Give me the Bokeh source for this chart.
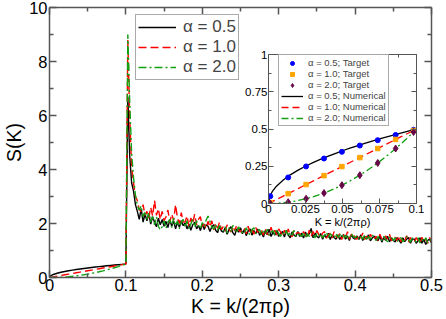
from bokeh.plotting import figure
from bokeh.models import Legend, LegendItem, LinearAxis, FixedTicker, Range1d
from bokeh.embed import file_html
from bokeh.resources import INLINE

# ---------------- data ----------------
series_labels = ["α = 0.5", "α = 1.0", "α = 2.0"]

# smooth part below K = 0.1
K_low = [0, 0.001, 0.0025, 0.005, 0.01, 0.015, 0.02, 0.025, 0.03, 0.035, 0.04, 0.045,
         0.05, 0.055, 0.06, 0.065, 0.07, 0.075, 0.08, 0.085, 0.09, 0.095, 0.1]
S05_low = [0, 0.05, 0.079, 0.112, 0.158, 0.194, 0.224, 0.25, 0.274, 0.296, 0.316, 0.335,
           0.354, 0.371, 0.387, 0.403, 0.418, 0.433, 0.447, 0.461, 0.474, 0.487, 0.5]
S10_low = [0, 0.005, 0.0125, 0.025, 0.05, 0.075, 0.1, 0.125, 0.15, 0.175, 0.2, 0.225,
           0.25, 0.275, 0.3, 0.325, 0.35, 0.375, 0.4, 0.425, 0.45, 0.475, 0.5]
S20_low = [0, 0.00005, 0.0003, 0.00125, 0.005, 0.011, 0.02, 0.031, 0.045, 0.061, 0.08, 0.101,
           0.125, 0.151, 0.18, 0.211, 0.245, 0.281, 0.32, 0.361, 0.405, 0.451, 0.5]

# noisy part above K = 0.1 (K = 0.1025 ... 0.5, step 0.0025)
S05_high = [
    6.7, 4.5, 3.5, 3.2, 2.7, 2.45, 2.15, 2.55, 2.05, 2.35,
    2.1, 2.38, 1.98, 2.25, 2.05, 1.88, 2.2, 1.95, 2.15, 1.9,
    2.08, 1.85, 2.15, 1.9, 2.1, 1.8, 2.05, 1.86, 2.1, 1.92,
    2.02, 1.8, 1.98, 1.75, 1.95, 2.05, 1.8, 1.93, 1.74, 1.98,
    1.78, 1.95, 1.9, 1.7, 1.88, 1.95, 1.75, 1.66, 1.9, 1.72,
    1.68, 1.84, 1.6, 1.78, 1.88, 1.66, 1.56, 1.8, 1.68, 1.84,
    1.62, 1.78, 1.55, 1.72, 1.8, 1.57, 1.74, 1.62, 1.8, 1.56,
    1.68, 1.5, 1.74, 1.58, 1.79, 1.52, 1.68, 1.57, 1.75, 1.52,
    1.63, 1.7, 1.5, 1.74, 1.58, 1.47, 1.69, 1.57, 1.52, 1.7,
    1.52, 1.64, 1.46, 1.68, 1.53, 1.62, 1.82, 1.47, 1.64, 1.52,
    1.47, 1.63, 1.42, 1.58, 1.47, 1.64, 1.41, 1.58, 1.48, 1.42,
    1.58, 1.41, 1.53, 1.58, 1.42, 1.54, 1.37, 1.58, 1.47, 1.42,
    1.53, 1.41, 1.58, 1.37, 1.52, 1.42, 1.58, 1.36, 1.46, 1.53,
    1.43, 1.36, 1.53, 1.31, 1.48, 1.38, 1.53, 1.32, 1.47, 1.37,
    1.32, 1.48, 1.38, 1.27, 1.47, 1.33, 1.42, 1.48, 1.27, 1.42,
    1.42, 1.27, 1.36, 1.47, 1.27, 1.41, 1.22, 1.37, 1.42, 1.28]
S10_high = [
    8.8, 5.9, 4.1, 3.5, 3.0, 2.85, 2.5, 2.45, 2.7, 2.3,
    2.45, 2.2, 2.6, 2.28, 2.85, 2.3, 2.55, 2.15, 2.45, 2.1,
    2.25, 2.5, 2.05, 2.35, 2.12, 2.7, 2.2, 2.0, 2.4, 2.05,
    2.05, 2.28, 1.9, 2.2, 2.0, 2.35, 1.95, 2.15, 2.25, 1.9,
    1.98, 1.82, 2.08, 1.87, 2.1, 1.76, 2.0, 1.82, 2.05, 1.77,
    1.88, 1.72, 1.95, 1.78, 1.68, 1.9, 1.72, 1.95, 1.77, 1.68,
    1.8, 1.84, 1.62, 1.9, 1.68, 1.8, 1.6, 1.85, 1.67, 1.8,
    1.74, 1.57, 1.8, 1.62, 1.57, 1.86, 1.62, 1.75, 1.57, 1.8,
    1.68, 1.52, 1.75, 1.57, 1.8, 1.57, 1.51, 1.75, 1.62, 1.66,
    1.63, 1.5, 1.7, 1.56, 1.47, 1.75, 1.52, 1.7, 1.56, 1.74,
    1.58, 1.46, 1.65, 1.7, 1.46, 1.58, 1.64, 1.46, 1.7, 1.52,
    1.47, 1.64, 1.41, 1.58, 1.46, 1.7, 1.42, 1.58, 1.65, 1.46,
    1.42, 1.58, 1.46, 1.65, 1.41, 1.53, 1.36, 1.6, 1.47, 1.42,
    1.53, 1.37, 1.6, 1.42, 1.36, 1.54, 1.42, 1.6, 1.36, 1.48,
    1.48, 1.36, 1.55, 1.32, 1.48, 1.37, 1.55, 1.31, 1.48, 1.37,
    1.32, 1.48, 1.37, 1.27, 1.49, 1.32, 1.43, 1.27, 1.48, 1.33]
S20_high = [
    9.0, 6.5, 4.6, 3.7, 3.05, 2.65, 2.5, 2.65, 2.25, 2.45,
    2.15, 2.4, 2.05, 2.3, 1.95, 2.25, 1.9, 1.76, 1.88, 2.1,
    1.82, 2.05, 2.15, 1.85, 2.2, 1.92, 2.1, 1.8, 2.05, 2.15,
    1.86, 2.1, 1.8, 1.98, 2.15, 1.86, 2.1, 1.92, 1.8, 2.04,
    1.88, 2.12, 2.28, 2.08, 1.86, 1.8, 1.98, 1.75, 1.92, 1.8,
    1.72, 1.88, 1.66, 1.84, 1.7, 1.93, 1.76, 1.66, 1.88, 1.72,
    1.66, 1.62, 1.84, 1.68, 1.56, 1.78, 1.84, 1.62, 1.72, 1.78,
    1.57, 1.74, 1.62, 1.79, 1.56, 1.67, 1.74, 1.57, 1.78, 1.62,
    1.52, 1.68, 1.57, 1.74, 1.52, 1.68, 1.57, 1.74, 1.52, 1.62,
    1.58, 1.52, 1.68, 1.47, 1.62, 1.52, 1.68, 1.58, 1.47, 1.63,
    1.52, 1.63, 1.47, 1.56, 1.68, 1.47, 1.62, 1.53, 1.46, 1.63,
    1.48, 1.57, 1.63, 1.42, 1.57, 1.48, 1.42, 1.63, 1.52, 1.47,
    1.57, 1.42, 1.52, 1.42, 1.58, 1.37, 1.52, 1.42, 1.58, 1.48,
    1.37, 1.52, 1.43, 1.37, 1.53, 1.42, 1.32, 1.47, 1.53, 1.37,
    1.47, 1.32, 1.42, 1.48, 1.32, 1.41, 1.52, 1.38, 1.32, 1.47,
    1.38, 1.32, 1.47, 1.28, 1.42, 1.33, 1.47, 1.28, 1.36, 1.42]
K_high = [round(0.1 + 0.0025 * (i + 1), 4) for i in range(len(S05_high))]

# inset: target points
K_target = [0.0012, 0.0133, 0.0254, 0.0375, 0.0496, 0.0617, 0.0738, 0.0859, 0.098]
T05 = [0.049, 0.175, 0.249, 0.302, 0.347, 0.389, 0.425, 0.46, 0.495]
T10 = [0.006, 0.066, 0.127, 0.187, 0.248, 0.308, 0.369, 0.43, 0.49]
T20 = [0.0002, 0.009, 0.032, 0.07, 0.123, 0.19, 0.272, 0.369, 0.48]
inset_labels = ["α = 0.5; Target", "α = 1.0; Target", "α = 2.0; Target",
                "α = 0.5; Numerical", "α = 1.0; Numerical", "α = 2.0; Numerical"]

# ticks
main_xticks = [0, 0.1, 0.2, 0.3, 0.4, 0.5]
main_xtick_labels = ["0", "0.1", "0.2", "0.3", "0.4", "0.5"]
main_xminor = [0.05, 0.15, 0.25, 0.35, 0.45]
main_yticks = [0, 2, 4, 6, 8, 10]
main_ytick_labels = ["0", "2", "4", "6", "8", "10"]
main_yminor = [1, 3, 5, 7, 9]
inset_xticks = [0, 0.025, 0.05, 0.075, 0.1]
inset_xtick_labels = ["0", "0.025", "0.05", "0.075", "0.1"]
inset_xminor = [0.0125, 0.0375, 0.0625, 0.0875]
inset_yticks = [0, 0.25, 0.5, 0.75, 1]
inset_ytick_labels = ["0", "0.25", "0.5", "0.75", "1"]
inset_yminor = [0.125, 0.375, 0.625, 0.875]

# ---------------- style ----------------
FONT = "Liberation Sans"
AX = "#555555"
BLACK, RED, GREEN = "#000000", "#ff0000", "#12a012"
BLUE, ORANGE, MAROON = "#0000ff", "#ffa500", "#670748"


def style_axis(ax, ticks, minor, labels, show_labels, size, tick_in, minor_in, lw):
    ax.ticker = FixedTicker(ticks=ticks, minor_ticks=minor)
    ax.major_label_overrides = {t: (l if show_labels else "") for t, l in zip(ticks, labels)}
    ax.major_tick_in = tick_in
    ax.major_tick_out = 0
    ax.minor_tick_in = minor_in
    ax.minor_tick_out = 0
    ax.axis_line_color = AX
    ax.axis_line_width = lw
    ax.major_tick_line_color = AX
    ax.minor_tick_line_color = AX
    ax.major_tick_line_width = lw
    ax.minor_tick_line_width = lw
    ax.major_label_text_font = FONT
    ax.major_label_text_font_size = size if show_labels else "0px"
    ax.major_label_text_color = "black"
    ax.major_label_standoff = 1 if show_labels else 0
    ax.axis_label_text_font = FONT
    ax.axis_label_text_font_style = "normal"
    ax.axis_label_text_color = "black"


# ---------------- main figure ----------------
p = figure(width=446, height=319, x_range=Range1d(0, 0.5), y_range=Range1d(0, 10),
           output_backend="svg", toolbar_location=None,
           min_border_top=7, min_border_right=15, min_border_left=0, min_border_bottom=0)
p.styles = {"position": "absolute", "left": "0px", "top": "0px"}
p.grid.visible = False
p.outline_line_color = None
p.background_fill_color = "white"

style_axis(p.xaxis[0], main_xticks, main_xminor, main_xtick_labels, True, "16.5px", 7, 4, 1.5)
style_axis(p.yaxis[0], main_yticks, main_yminor, main_ytick_labels, True, "16.5px", 7, 4, 1.5)
p.xaxis.axis_label = "K = k/(2πρ)"
p.yaxis.axis_label = "S(K)"
p.xaxis.axis_label_text_font_size = "19.5px"
p.yaxis.axis_label_text_font_size = "19.5px"
p.xaxis.axis_label_standoff = 1
p.yaxis.axis_label_standoff = 1
p.yaxis.major_label_standoff = 2

top_ax = LinearAxis()
right_ax = LinearAxis()
style_axis(top_ax, main_xticks, main_xminor, main_xtick_labels, False, "16px", 7, 4, 1.5)
style_axis(right_ax, main_yticks, main_yminor, main_ytick_labels, False, "16px", 7, 4, 1.5)
p.add_layout(top_ax, "above")
p.add_layout(right_ax, "right")

r05 = p.line(K_low + K_high, S05_low + S05_high, line_color=BLACK, line_width=1.4)
r10 = p.line(K_low + K_high, S10_low + S10_high, line_color=RED, line_width=1.4, line_dash="8 4")
r20 = p.line(K_low + K_high, S20_low + S20_high, line_color=GREEN, line_width=1.4, line_dash="8 3 2 3")

leg = Legend(items=[LegendItem(label=series_labels[0], renderers=[r05]),
                    LegendItem(label=series_labels[1], renderers=[r10]),
                    LegendItem(label=series_labels[2], renderers=[r20])],
             location=(86, 197))
leg.label_text_font = FONT
leg.label_text_font_size = "17px"
leg.label_height = 16
leg.glyph_height = 16
leg.glyph_width = 38
leg.label_standoff = 7
leg.spacing = 0
leg.padding = 2
leg.margin = 0
leg.border_line_color = AX
leg.border_line_width = 1.5
leg.background_fill_alpha = 1
p.add_layout(leg)

# ---------------- inset ----------------
ins = figure(width=186, height=182, x_range=Range1d(0, 0.1), y_range=Range1d(0, 1),
             output_backend="svg", toolbar_location=None,
             min_border_top=6, min_border_right=8, min_border_left=30, min_border_bottom=0)
ins.styles = {"position": "absolute", "left": "238px", "top": "48px"}
ins.grid.visible = False
ins.outline_line_color = None
ins.border_fill_alpha = 0
ins.background_fill_color = "white"

style_axis(ins.xaxis[0], inset_xticks, inset_xminor, inset_xtick_labels, True, "11.5px", 5, 3, 1)
style_axis(ins.yaxis[0], inset_yticks, inset_yminor, inset_ytick_labels, True, "11.5px", 5, 3, 1)
ins.xaxis.axis_label = "K = k/(2πρ)"
ins.xaxis.axis_label_text_font_size = "11px"
ins.xaxis.axis_label_standoff = 0
ins.xaxis.major_label_standoff = 1
ins_top = LinearAxis()
ins_right = LinearAxis()
style_axis(ins_top, inset_xticks, inset_xminor, inset_xtick_labels, False, "11px", 5, 3, 1)
style_axis(ins_right, inset_yticks, inset_yminor, inset_ytick_labels, False, "11px", 5, 3, 1)
ins.add_layout(ins_top, "above")
ins.add_layout(ins_right, "right")

n05 = ins.line(K_low, S05_low, line_color=BLACK, line_width=1.3)
n10 = ins.line(K_low, S10_low, line_color=RED, line_width=1.3, line_dash="7 4")
n20 = ins.line(K_low, S20_low, line_color=GREEN, line_width=1.3, line_dash="7 3 2 3")
m05 = ins.scatter(K_target, T05, marker="circle", size=5, fill_color=BLUE, line_color=BLUE)
m10 = ins.scatter(K_target, T10, marker="square", size=4.5, fill_color=ORANGE, line_color=ORANGE)
m20 = ins.scatter(K_target, T20, marker="diamond", size=7, fill_color=MAROON, line_color=MAROON)

ileg = Legend(items=[LegendItem(label=inset_labels[0], renderers=[m05]),
                     LegendItem(label=inset_labels[1], renderers=[m10]),
                     LegendItem(label=inset_labels[2], renderers=[m20]),
                     LegendItem(label=inset_labels[3], renderers=[n05]),
                     LegendItem(label=inset_labels[4], renderers=[n10]),
                     LegendItem(label=inset_labels[5], renderers=[n20])],
              location=(10, 77))
ileg.label_text_font = FONT
ileg.label_text_font_size = "9.5px"
ileg.label_height = 10
ileg.glyph_height = 10
ileg.glyph_width = 22
ileg.label_standoff = 5
ileg.spacing = 0
ileg.padding = 2
ileg.margin = 0
ileg.border_line_color = AX
ileg.border_line_width = 1
ins.add_layout(ileg)

open("out.html", "w").write(file_html([p, ins], INLINE))
